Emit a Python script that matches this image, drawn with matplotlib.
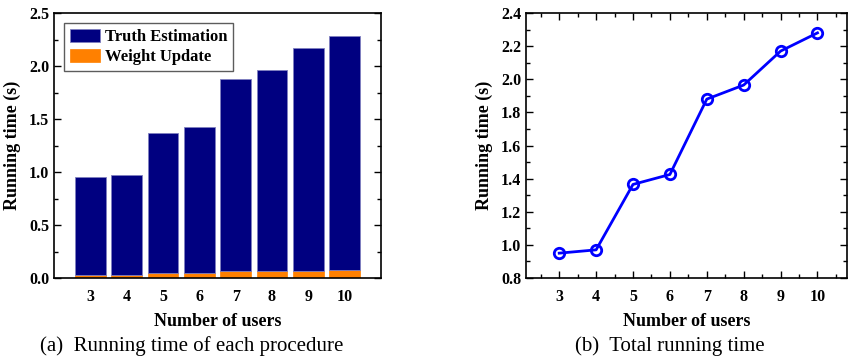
import numpy as np
import matplotlib
matplotlib.use("Agg")
import matplotlib.pyplot as plt
from matplotlib.ticker import MultipleLocator, FormatStrFormatter

# data
users = [3, 4, 5, 6, 7, 8, 9, 10]
total_time = [0.95, 0.97, 1.365, 1.425, 1.88, 1.965, 2.17, 2.28]
weight_update = [0.025, 0.03, 0.045, 0.05, 0.065, 0.07, 0.07, 0.08]
truth_estimation = [t - w for t, w in zip(total_time, weight_update)]

plt.rcParams["font.family"] = ["Liberation Serif", "DejaVu Serif"]
plt.rcParams["axes.linewidth"] = 1.2

W, H = 850, 360
fig = plt.figure(figsize=(W / 100, H / 100), dpi=100)


def px_axes(x0, y0, x1, y1):
    return fig.add_axes([x0 / W, 1 - y1 / H, (x1 - x0) / W, (y1 - y0) / H])


def style_ticks(ax):
    ax.tick_params(which="both", direction="in", top=True, right=True,
                   labelsize=11.5, width=1.0)
    ax.tick_params(which="major", length=5)
    ax.tick_params(which="minor", length=3)
    for lab in ax.get_xticklabels() + ax.get_yticklabels():
        lab.set_fontweight("bold")


# (a) stacked bars
ax1 = px_axes(54, 13, 381, 278)
ax1.bar(users, weight_update, width=0.84, color="#FF8000",
        edgecolor="#FF8000", linewidth=0.5, label="Weight Update")
ax1.bar(users, truth_estimation, bottom=weight_update, width=0.84,
        color="#000080", edgecolor="#8080C0", linewidth=0.6,
        label="Truth Estimation")
ax1.set_xlim(2, 11)
ax1.set_ylim(0, 2.5)
ax1.set_xticks(users)
ax1.yaxis.set_major_locator(MultipleLocator(0.5))
ax1.yaxis.set_minor_locator(MultipleLocator(0.25))
ax1.yaxis.set_major_formatter(FormatStrFormatter("%.1f"))
style_ticks(ax1)
ax1.tick_params(axis="x", which="both", length=0, top=False, pad=8)
ax1.set_ylabel("Running time (s)", fontsize=13, fontweight="bold", labelpad=6)
ax1.set_xlabel("Number of users", fontsize=13, fontweight="bold", labelpad=6)
handles, labels = ax1.get_legend_handles_labels()
leg = ax1.legend(handles[::-1], labels[::-1], loc="upper left",
                 prop={"weight": "bold", "size": 12}, frameon=True,
                 fancybox=False, edgecolor="#333333", handlelength=1.8,
                 handleheight=0.8, borderaxespad=0.6, labelspacing=0.25,
                 handletextpad=0.3, borderpad=0.35)
leg.get_frame().set_linewidth(1.0)

# (b) total running time
ax2 = px_axes(526, 13, 847, 278)
ax2.plot(users, total_time, color="#0000FF", linewidth=2, marker="o",
         markersize=7.5, markerfacecolor="none", markeredgewidth=2)
ax2.set_xlim(2.1, 10.8)
ax2.set_ylim(0.8, 2.4)
ax2.set_xticks(users)
ax2.xaxis.set_minor_locator(MultipleLocator(0.5))
ax2.yaxis.set_major_locator(MultipleLocator(0.2))
ax2.yaxis.set_minor_locator(MultipleLocator(0.1))
ax2.yaxis.set_major_formatter(FormatStrFormatter("%.1f"))
style_ticks(ax2)
ax2.tick_params(axis="x", which="major", pad=8)
ax2.set_ylabel("Running time (s)", fontsize=13, fontweight="bold", labelpad=6)
ax2.set_xlabel("Number of users", fontsize=13, fontweight="bold", labelpad=6)

fig.text(192 / W, 1 - 346 / H, "(a)  Running time of each procedure",
         ha="center", va="center", fontsize=15)
fig.text(670 / W, 1 - 346 / H, "(b)  Total running time",
         ha="center", va="center", fontsize=15)

fig.savefig("out.png", dpi=100)
